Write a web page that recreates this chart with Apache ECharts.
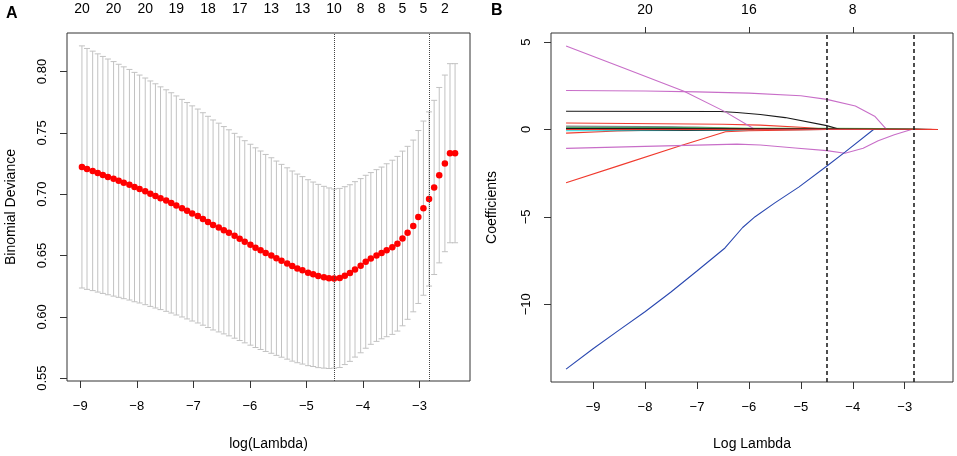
<!DOCTYPE html>
<html>
<head>
<meta charset="utf-8">
<script src="https://cdn.jsdelivr.net/npm/echarts@6/dist/echarts.min.js"></script>
<style>
  html, body { margin: 0; padding: 0; background: #ffffff; }
  #chart { width: 957px; height: 456px; }
</style>
</head>
<body>
<div id="chart"></div>
<script>
// ---------- Panel A: cross-validation curve ----------
const logLambda = [
  -8.97, -8.88, -8.78, -8.69, -8.60, -8.51, -8.41, -8.32, -8.23, -8.13,
  -8.04, -7.95, -7.85, -7.76, -7.67, -7.58, -7.48, -7.39, -7.30, -7.20,
  -7.11, -7.02, -6.92, -6.83, -6.74, -6.65, -6.55, -6.46, -6.37, -6.27,
  -6.18, -6.09, -5.99, -5.90, -5.81, -5.72, -5.62, -5.53, -5.44, -5.34,
  -5.25, -5.16, -5.07, -4.97, -4.88, -4.79, -4.69, -4.60, -4.51, -4.41,
  -4.32, -4.23, -4.14, -4.04, -3.95, -3.86, -3.76, -3.67, -3.58, -3.48,
  -3.39, -3.30, -3.21, -3.11, -3.02, -2.93, -2.83, -2.74, -2.65, -2.55,
  -2.46, -2.37
];
const cvm = [
  0.7222, 0.7206, 0.7190, 0.7173, 0.7157, 0.7141, 0.7125, 0.7109, 0.7093, 0.7077,
  0.7058, 0.7042, 0.7023, 0.7004, 0.6986, 0.6967, 0.6948, 0.6929, 0.6908, 0.6886,
  0.6865, 0.6843, 0.6822, 0.6798, 0.6774, 0.6749, 0.6728, 0.6706, 0.6685, 0.6661,
  0.6637, 0.6612, 0.6588, 0.6564, 0.6543, 0.6521, 0.6500, 0.6478, 0.6457, 0.6435,
  0.6414, 0.6395, 0.6379, 0.6360, 0.6347, 0.6333, 0.6323, 0.6315, 0.6312, 0.6317,
  0.6336, 0.6357, 0.6387, 0.6417, 0.6449, 0.6476, 0.6500, 0.6521, 0.6543, 0.6567,
  0.6596, 0.6639, 0.6685, 0.6741, 0.6814, 0.6886, 0.6961, 0.7055, 0.7155, 0.7251,
  0.7334, 0.7334
];
const cvsd = [
  0.0987, 0.0982, 0.0976, 0.0971, 0.0966, 0.0961, 0.0956, 0.0950, 0.0945, 0.0940,
  0.0935, 0.0929, 0.0924, 0.0919, 0.0914, 0.0908, 0.0903, 0.0898, 0.0893, 0.0887,
  0.0882, 0.0877, 0.0872, 0.0866, 0.0861, 0.0856, 0.0851, 0.0845, 0.0840, 0.0835,
  0.0830, 0.0824, 0.0819, 0.0814, 0.0809, 0.0803, 0.0797, 0.0792, 0.0786, 0.0780,
  0.0775, 0.0769, 0.0764, 0.0758, 0.0752, 0.0747, 0.0741, 0.0736, 0.0730, 0.0730,
  0.0725, 0.0720, 0.0715, 0.0710, 0.0705, 0.0700, 0.0700, 0.0700, 0.0705, 0.0710,
  0.0712, 0.0712, 0.0705, 0.0700, 0.0705, 0.0710, 0.0710, 0.0710, 0.0715, 0.0720,
  0.0730, 0.0730
];
const lambdaMinLog = -4.51;
const lambda1seLog = -2.83;
const topPosA = [-8.97, -8.41, -7.85, -7.30, -6.74, -6.18, -5.62, -5.07, -4.51, -4.04, -3.67, -3.30, -2.93, -2.55];
const topLabA = ['20', '20', '20', '19', '18', '17', '13', '13', '10', '8', '8', '5', '5', '2'];
const yTicksA = [0.55, 0.60, 0.65, 0.70, 0.75, 0.80];
const xTicksA = [-9, -8, -7, -6, -5, -4, -3];

// ---------- Panel B: coefficient paths ----------
const xTicksB = [-9, -8, -7, -6, -5, -4, -3];
const yTicksB = [-10, -5, 0, 5];
const topPosB = [-8, -6, -4];
const topLabB = ['20', '16', '8'];

const pathCyan2   = [[-9.52,-0.03],[-7.0,-0.02],[-6.3,0],[-2.36,0]];
const pathRedLow  = [[-9.52,-0.21],[-8.53,-0.09],[-7.6,-0.03],[-6.8,0],[-2.36,0]];
const pathGray    = [[-9.52,0.19],[-8.0,0.17],[-7.0,0.14],[-6.2,0.06],[-5.6,0],[-2.36,0]];
const pathTeal    = [[-9.52,0.13],[-7.5,0.12],[-6.5,0.07],[-5.8,0],[-2.36,0]];
const pathGreen   = [[-9.52,0.08],[-7.0,0.08],[-5.5,0.07],[-4.5,0.06],[-3.5,0.05],[-2.9,0.02],[-2.6,0],[-2.36,0]];
const pathCyan    = [[-9.52,-0.07],[-7.0,-0.06],[-6.0,-0.04],[-5.0,-0.01],[-4.6,0],[-2.36,0]];
const pathBlack2  = [[-9.52,0.03],[-8.5,-0.01],[-7.2,-0.04],[-6.5,-0.03],[-6.0,0],[-2.36,0]];
const pathRedUp   = [[-9.52,0.37],[-6.5,0.30],[-5.78,0.25],[-5.0,0.13],[-4.6,0.04],[-4.3,0],[-2.36,0]];
const pathRedDesc = [[-9.52,-3.05],[-8.5,-2.07],[-7.32,-0.93],[-6.45,-0.13],[-6.0,-0.07],[-5.0,-0.03],[-4.5,0],[-2.36,0]];
const pathBlack1  = [[-9.52,1.04],[-6.55,1.03],[-6.23,0.97],[-5.78,0.86],[-5.30,0.68],[-4.50,0.22],[-4.24,0],[-2.36,0]];
const pathMagC    = [[-9.52,-1.08],[-8.0,-0.97],[-6.8,-0.88],[-6.23,-0.84],[-5.78,-0.89],[-5.11,-1.06],[-4.50,-1.21],[-4.15,-1.36],[-3.8,-1.08],[-3.51,-0.64],[-3.2,-0.30],[-2.87,0],[-2.36,0]];
const pathMagB    = [[-9.52,2.23],[-8.0,2.20],[-7.0,2.15],[-6.0,2.08],[-5.0,1.93],[-4.5,1.72],[-3.95,1.34],[-3.57,0.74],[-3.35,0],[-2.36,0]];
const pathMagA    = [[-9.52,4.78],[-8.45,3.56],[-7.25,2.19],[-6.48,1.05],[-5.88,0],[-2.36,0]];
const pathBlue    = [[-9.52,-13.71],[-9.0,-12.55],[-8.5,-11.48],[-8.0,-10.43],[-7.5,-9.30],[-7.0,-8.10],[-6.46,-6.78],[-6.12,-5.61],[-5.88,-4.99],[-5.5,-4.20],[-5.04,-3.30],[-4.51,-2.12],[-4.15,-1.30],[-3.60,0],[-2.36,0]];
const pathBlack3  = [[-9.52,0.05],[-6.0,0.05],[-4.5,0.04],[-3.5,0.03],[-2.8,0.02],[-2.45,0],[-2.36,0]];
const pathRedTail = [[-9.52,0],[-5.0,0.01],[-3.0,0.01],[-2.5,0.005],[-2.36,0]];

const pathList = [
  [pathCyan2, '#40d8e0'], [pathRedLow, '#f03a2e'], [pathGray, '#8c8c8c'], [pathTeal, '#2f6f6f'],
  [pathGreen, '#44cc44'], [pathCyan, '#40d8e0'], [pathBlack2, '#1a1a1a'], [pathRedUp, '#f03a2e'],
  [pathRedDesc, '#f03a2e'], [pathBlack1, '#1a1a1a'], [pathMagC, '#c86ec8'], [pathMagB, '#c86ec8'],
  [pathMagA, '#c86ec8'], [pathBlue, '#2a48b0'], [pathBlack3, '#1a1a1a'], [pathRedTail, '#f03a2e']
];

// ---------- build chart ----------
const FONT = 'Liberation Sans, Arial, Helvetica, sans-serif';
const minus = v => String(v).replace('-', '\u2212');
const nearestLabel = (pos, labs) => v => {
  let best = 0, d = Infinity;
  pos.forEach((p, i) => { const dd = Math.abs(p - v); if (dd < d) { d = dd; best = i; } });
  return labs[best];
};

const errData = logLambda.map((x, i) => [x, cvm[i] - cvsd[i], cvm[i] + cvsd[i]]);
const dotData = logLambda.map((x, i) => [x, cvm[i]]);

const baseLabel = { fontFamily: FONT, fontSize: 13, color: '#000' };
const topLabel = { fontFamily: FONT, fontSize: 14, color: '#000' };
const tickStyle = { color: '#333', width: 1 };

const chart = echarts.init(document.getElementById('chart'), null, { renderer: 'canvas' });

const series = [
  {
    type: 'custom', xAxisIndex: 0, yAxisIndex: 0, silent: true,
    data: errData,
    encode: { x: 0, y: [1, 2] },
    renderItem: function (params, api) {
      const x = api.value(0);
      const lo = api.coord([x, api.value(1)]);
      const hi = api.coord([x, api.value(2)]);
      const w = 3;
      const st = { stroke: '#c2c2c2', lineWidth: 1 };
      return {
        type: 'group',
        children: [
          { type: 'line', shape: { x1: lo[0], y1: lo[1], x2: hi[0], y2: hi[1] }, style: st },
          { type: 'line', shape: { x1: hi[0] - w, y1: hi[1], x2: hi[0] + w, y2: hi[1] }, style: st },
          { type: 'line', shape: { x1: lo[0] - w, y1: lo[1], x2: lo[0] + w, y2: lo[1] }, style: st }
        ]
      };
    },
    z: 2
  },
  {
    type: 'scatter', xAxisIndex: 0, yAxisIndex: 0, silent: true,
    data: dotData, symbol: 'circle', symbolSize: 6.5,
    itemStyle: { color: '#ff0000', opacity: 1 },
    z: 4,
    markLine: {
      silent: true, symbol: ['none', 'none'], label: { show: false },
      lineStyle: { type: 'dotted', color: '#444', width: 1 },
      data: [{ xAxis: lambdaMinLog }, { xAxis: lambda1seLog }]
    }
  }
];

pathList.forEach(([d, c], i) => {
  const s = {
    type: 'line', xAxisIndex: 2, yAxisIndex: 1, silent: true,
    data: d, showSymbol: false, symbol: 'none',
    lineStyle: { color: c, width: 1.1 },
    z: 3
  };
  if (i === 0) {
    s.markLine = {
      silent: true, symbol: ['none', 'none'], label: { show: false },
      lineStyle: { type: [4, 3], color: '#222', width: 1.6 },
      data: [{ xAxis: lambdaMinLog }, { xAxis: lambda1seLog }]
    };
  }
  series.push(s);
});

const option = {
  animation: false,
  backgroundColor: '#ffffff',
  textStyle: { fontFamily: FONT },
  grid: [
    { left: 67, top: 33, width: 403, height: 352, show: true, borderColor: '#333', borderWidth: 1, backgroundColor: 'transparent' },
    { left: 551, top: 33, width: 402, height: 352, show: true, borderColor: '#333', borderWidth: 1, backgroundColor: 'transparent' }
  ],
  xAxis: [
    {
      gridIndex: 0, type: 'value', position: 'bottom', min: -9.234, max: -2.106,
      axisLine: { show: false, onZero: false },
      splitLine: { show: false },
      axisTick: { show: true, inside: false, length: 7, lineStyle: tickStyle, customValues: xTicksA },
      axisLabel: Object.assign({}, baseLabel, { margin: 19, customValues: xTicksA, formatter: v => minus(v) }),
      name: 'log(Lambda)', nameLocation: 'middle', nameGap: 56,
      nameTextStyle: { fontFamily: FONT, fontSize: 14, color: '#000' }
    },
    {
      gridIndex: 0, type: 'value', position: 'top', min: -9.234, max: -2.106,
      axisLine: { show: false, onZero: false },
      splitLine: { show: false },
      axisTick: { show: false },
      axisLabel: Object.assign({}, topLabel, { margin: 17, customValues: topPosA, formatter: nearestLabel(topPosA, topLabA) })
    },
    {
      gridIndex: 1, type: 'value', position: 'bottom', min: -9.81, max: -2.07,
      axisLine: { show: false, onZero: false },
      splitLine: { show: false },
      axisTick: { show: true, inside: false, length: 7, lineStyle: tickStyle, customValues: xTicksB },
      axisLabel: Object.assign({}, baseLabel, { margin: 19, customValues: xTicksB, formatter: v => minus(v) }),
      name: 'Log Lambda', nameLocation: 'middle', nameGap: 55,
      nameTextStyle: { fontFamily: FONT, fontSize: 14, color: '#000' }
    },
    {
      gridIndex: 1, type: 'value', position: 'top', min: -9.81, max: -2.07,
      axisLine: { show: false, onZero: false },
      splitLine: { show: false },
      axisTick: { show: true, inside: false, length: 6, lineStyle: tickStyle, customValues: topPosB },
      axisLabel: Object.assign({}, topLabel, { margin: 16, customValues: topPosB, formatter: nearestLabel(topPosB, topLabB) })
    }
  ],
  yAxis: [
    {
      gridIndex: 0, type: 'value', min: 0.5477, max: 0.8314,
      axisLine: { show: false, onZero: false },
      splitLine: { show: false },
      axisTick: { show: true, inside: false, length: 7, lineStyle: tickStyle, customValues: yTicksA },
      axisLabel: Object.assign({}, baseLabel, { margin: 18, rotate: 90, customValues: yTicksA, formatter: v => v.toFixed(2) }),
      name: 'Binomial Deviance', nameLocation: 'middle', nameGap: 49, nameRotate: 90,
      nameTextStyle: { fontFamily: FONT, fontSize: 14, color: '#000' }
    },
    {
      gridIndex: 1, type: 'value', min: -14.45, max: 5.52,
      axisLine: { show: false, onZero: false },
      splitLine: { show: false },
      axisTick: { show: true, inside: false, length: 7, lineStyle: tickStyle, customValues: yTicksB },
      axisLabel: Object.assign({}, baseLabel, { margin: 18, rotate: 90, customValues: yTicksB, formatter: v => minus(v) }),
      name: 'Coefficients', nameLocation: 'middle', nameGap: 52, nameRotate: 90,
      nameTextStyle: { fontFamily: FONT, fontSize: 14, color: '#000' }
    }
  ],
  graphic: [
    { type: 'text', left: 6, top: 6, style: { text: 'A', font: 'bold 16px ' + FONT, fill: '#000' } },
    { type: 'text', left: 491, top: 3, style: { text: 'B', font: 'bold 16px ' + FONT, fill: '#000' } }
  ],
  series: series
};

chart.setOption(option);
</script>
</body>
</html>
